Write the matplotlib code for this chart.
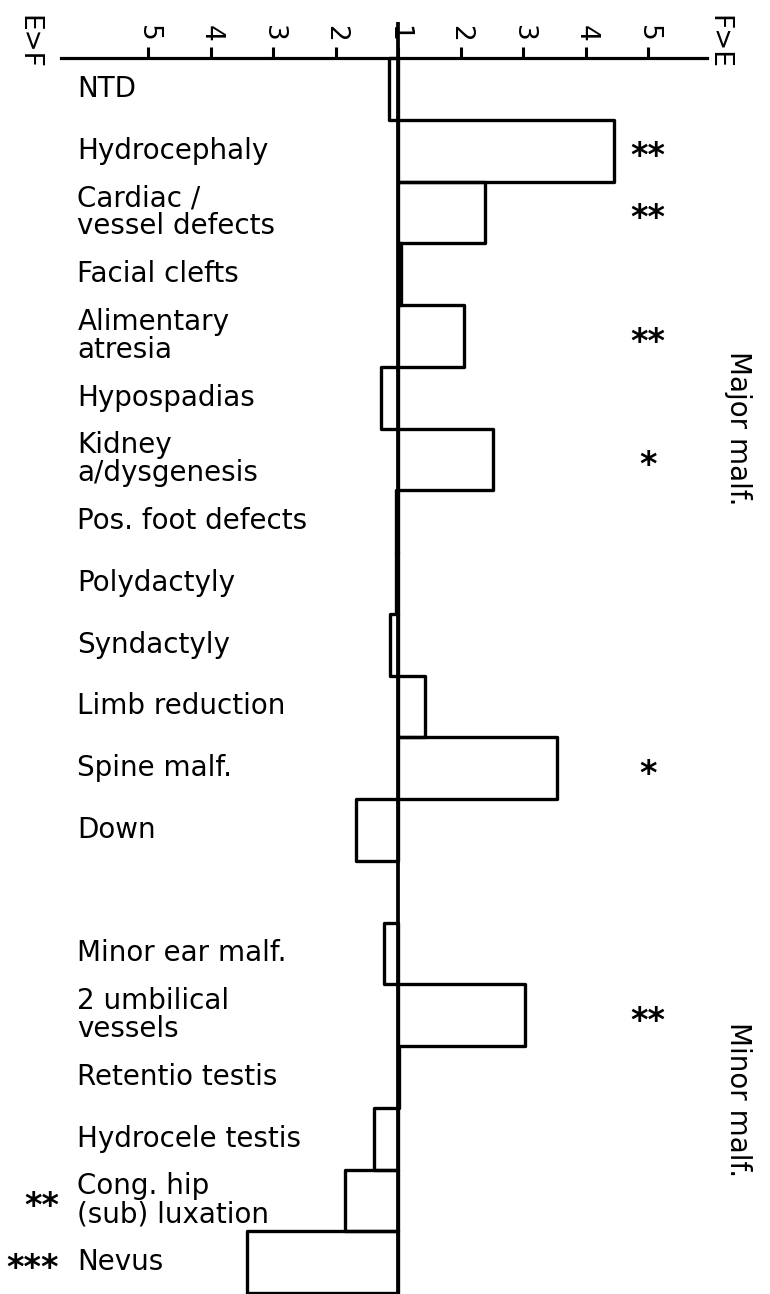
import numpy as np
import matplotlib
matplotlib.use("Agg")
import matplotlib.pyplot as plt

# Datos: razon de riesgo, y hacia que lado va (E>F a la izquierda, F>E a la derecha)
labels = ["NTD", "Hydrocephaly", "Cardiac /\nvessel defects", "Facial clefts",
          "Alimentary\natresia", "Hypospadias", "Kidney\na/dysgenesis",
          "Pos. foot defects", "Polydactyly", "Syndactyly", "Limb reduction",
          "Spine malf.", "Down",
          "Minor ear malf.", "2 umbilical\nvessels", "Retentio testis",
          "Hydrocele testis", "Cong. hip\n(sub) luxation", "Nevus"]
ratios = [1.15, 4.46, 2.39, 1.05, 2.06, 1.27, 2.52, 1.03, 1.03, 1.13, 1.43,
          3.54, 1.67, 1.22, 3.03, 1.02, 1.38, 1.85, 3.42]
favours = ["E", "F", "F", "F", "F", "E", "F", "E", "E", "E", "F",
           "F", "E", "E", "F", "F", "E", "E", "E"]
stars_right = ["", "**", "**", "", "**", "", "*", "", "", "", "", "*", "",
               "", "**", "", "", "", ""]
stars_left = ["", "", "", "", "", "", "", "", "", "", "", "", "",
              "", "", "", "", "**", "***"]
rows = list(range(13)) + list(range(14, 20))   # fila 13 vacia entre grupos

tick_pos = [-4, -3, -2, -1, 0, 1, 2, 3, 4]
tick_lab = ["5", "4", "3", "2", "1", "2", "3", "4", "5"]

shift = np.array([(r - 1) * (1 if f == "F" else -1) for r, f in zip(ratios, favours)])
centers = np.array(rows) + 0.5

fig = plt.figure(figsize=(7.7, 12.94), dpi=100)
ax = fig.add_axes([0, 0, 1, 1])
ax.set_xlim(-398 / 62.5, (770 - 398) / 62.5)
ax.set_ylim((1294 - 58) / 61.75, -58 / 61.75)

# Barras
ax.barh(centers, shift, height=1.0, left=0, fill=False, edgecolor="black",
        linewidth=2.4, joinstyle="round")

# Linea central
ax.vlines(0, -0.58, 20.1, color="black", linewidth=2.7)

# Eje superior
for s in ["left", "right", "bottom"]:
    ax.spines[s].set_visible(False)
ax.spines["top"].set_position(("data", 0))
ax.spines["top"].set_bounds(-5.4, 4.95)
ax.spines["top"].set_linewidth(2.3)
ax.xaxis.set_ticks_position("top")
ax.xaxis.set_label_position("top")
ax.set_xticks(tick_pos)
ax.set_xticklabels(tick_lab, rotation=-90, fontsize=19)
ax.tick_params(axis="x", direction="out", length=8, width=2.2, pad=4)
ax.set_yticks([])

fs = 20
for c, lab in zip(centers, labels):
    ax.text(-5.13, c, lab, ha="left", va="center", fontsize=fs, linespacing=1.0)

for c, st in zip(centers, stars_right):
    if st:
        ax.text(4.0, c + 0.1, st, ha="center", va="center", fontsize=24,
                fontweight="bold")
for c, st in zip(centers, stars_left):
    if st:
        ax.text(-5.42, c + 0.1, st, ha="right", va="center", fontsize=24,
                fontweight="bold")

ax.text(-5.92, -0.26, "E>F", rotation=-90, ha="center", va="center", fontsize=19)
ax.text(5.12, -0.26, "F>E", rotation=-90, ha="center", va="center", fontsize=19)
ax.text(5.44, 5.99, "Major malf.", rotation=-90, ha="center", va="center", fontsize=20)
ax.text(5.44, 16.87, "Minor malf.", rotation=-90, ha="center", va="center", fontsize=20)

fig.savefig("out.png", dpi=100)
